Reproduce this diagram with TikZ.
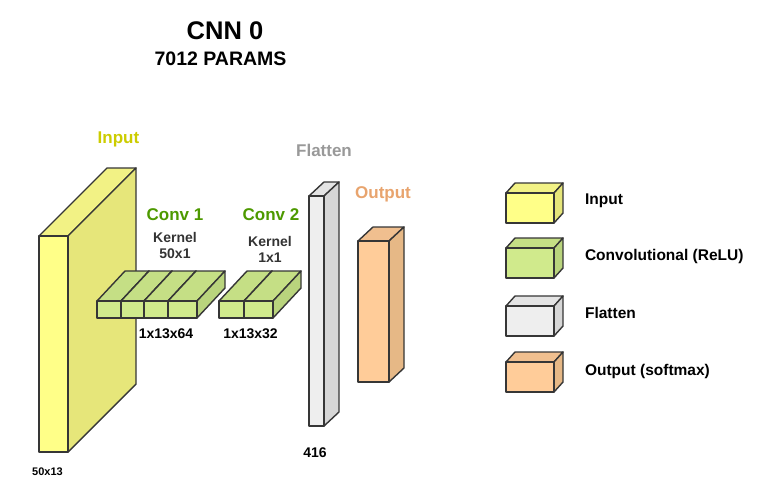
\documentclass[tikz,border=0pt]{standalone}
\usepackage{fontspec}
\setmainfont{Liberation Sans}
\usetikzlibrary{positioning}

\definecolor{edge}{HTML}{363636}
\definecolor{inputF}{HTML}{FFFF88}
\definecolor{inputT}{HTML}{F2F285}
\definecolor{inputS}{HTML}{E6E67A}
\definecolor{convF}{HTML}{D0EA8C}
\definecolor{convT}{HTML}{C5DF85}
\definecolor{convS}{HTML}{B9D47D}
\definecolor{flatF}{HTML}{EEEEEE}
\definecolor{flatT}{HTML}{E4E4E4}
\definecolor{flatS}{HTML}{D6D6D6}
\definecolor{outF}{HTML}{FFCC99}
\definecolor{outT}{HTML}{F0BF8F}
\definecolor{outS}{HTML}{E6B886}
\definecolor{inputtxt}{HTML}{CCCC00}
\definecolor{convtxt}{HTML}{4D9900}
\definecolor{flattxt}{HTML}{999999}
\definecolor{outtxt}{HTML}{E8A46E}
\definecolor{kerntxt}{HTML}{333333}

% a layer: front corner x, y, width, height, depth x, depth y, colour
\newcommand{\layerbox}[7]{%
  \filldraw[fill=#7T] (#1,#2) -- ++(#5,-#6) -- ++(#3,0) -- ++(-#5,#6) -- cycle;
  \filldraw[fill=#7S] (#1+#3,#2) -- ++(#5,-#6) -- ++(0,#4) -- ++(-#5,#6) -- cycle;
  \filldraw[fill=#7F] (#1,#2) rectangle ++(#3,#4);
}

\tikzset{
  title/.style={font=\bfseries\fontsize{25.5}{30}\selectfont},
  subtitle/.style={font=\bfseries\fontsize{19.5}{23}\selectfont},
  layername/.style={font=\bfseries\fontsize{17}{20}\selectfont},
  kernel/.style={font=\bfseries\fontsize{14}{17}\selectfont, text=kerntxt},
  dims/.style={font=\bfseries\fontsize{14}{17}\selectfont},
  legend/.style={font=\bfseries\fontsize{15.5}{19}\selectfont, anchor=west}
}

\begin{document}
\begin{tikzpicture}[x=1pt, y=-1pt, draw=edge, line width=1.4pt, line join=round]
    \useasboundingbox (0,0) rectangle (775,499);

    % the title
    \node[title] (title) at (225,31) {CNN 0};
    \node[subtitle] (params) at (220.5,59) {7012 PARAMS};

    % draw the layers
    \layerbox{39}{236}{29}{216}{68}{68}{input}
    \foreach \x/\w in {97/24,121/23,144/24,168/29}
        {\layerbox{\x}{301}{\w}{17}{28}{30}{conv}}
    \foreach \x/\w in {219/25,244/29}
        {\layerbox{\x}{301}{\w}{17}{28}{30}{conv}}
    \layerbox{309}{196}{15}{230}{15}{14}{flat}
    \layerbox{358}{241}{31}{141}{15}{14}{out}

    % the texts
    \node[layername, text=inputtxt] (inname) at (118.5,139) {Input};
    \node[layername, text=convtxt] (c1name) at (175,215) {Conv 1};
    \node[kernel] (k1a) at (175,237) {Kernel};
    \node[kernel] (k1b) at (175,254) {50x1};
    \node[layername, text=convtxt] (c2name) at (271,215) {Conv 2};
    \node[kernel] (k2a) at (270,241) {Kernel};
    \node[kernel] (k2b) at (270,258) {1x1};
    \node[layername, text=flattxt] (flname) at (324,150) {Flatten};
    \node[layername, text=outtxt] (outname) at (383,194) {Output};

    \node[dims] (d1) at (166,334) {1x13x64};
    \node[dims] (d2) at (250.5,334) {1x13x32};
    \node[dims, font=\bfseries\fontsize{11}{13}\selectfont] (d0) at (47.5,472) {50x13};
    \node[dims] (d3) at (315,453) {416};

    % the legend
    \foreach \y/\c in {193/input,248/conv,306/flat,362/out}
        {\layerbox{506}{\y}{48}{30}{9}{10}{\c}}
    \node[legend] (lin) at (581,201) {Input};
    \node[legend] (lconv) at (581,256) {Convolutional (ReLU)};
    \node[legend] (lflat) at (581,313) {Flatten};
    \node[legend] (lout) at (581,371) {Output (softmax)};
\end{tikzpicture}
\end{document}
